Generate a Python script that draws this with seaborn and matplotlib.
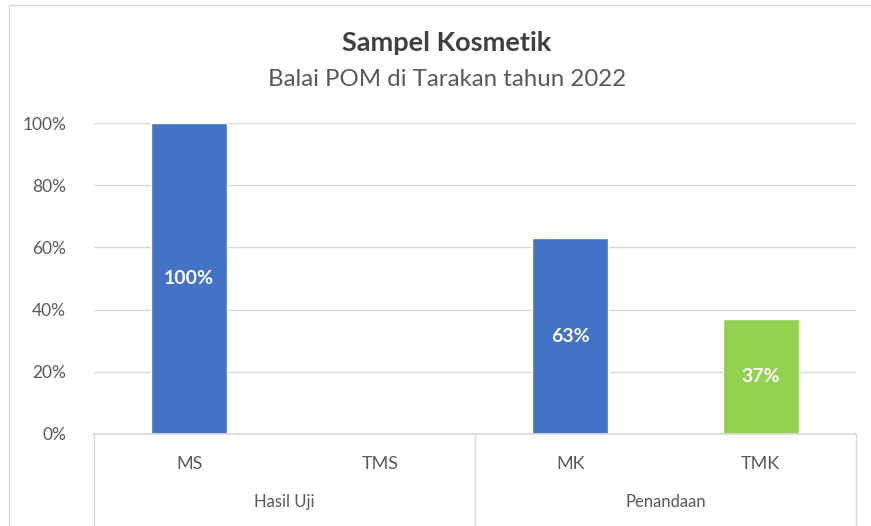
import matplotlib
matplotlib.use("Agg")
import matplotlib.pyplot as plt
import seaborn as sns
import pandas as pd
from matplotlib.lines import Line2D

categories = ["MS", "TMS", "MK", "TMK"]
groups = ["Hasil Uji", "Penandaan"]
group_sizes = [2, 2]
values = [100, 0, 63, 37]
colors = {"MS": "#4472C4", "TMS": "#4472C4", "MK": "#4472C4", "TMK": "#92D050"}
yticks = [0, 20, 40, 60, 80, 100]

sns.set_theme(style="white")
plt.rcParams['font.family'] = ['Lato', 'DejaVu Sans']

W, H = 871, 526
fig = plt.figure(figsize=(W / 100, H / 100), dpi=100)
fig.patch.set_facecolor("white")

# chart border (top and left visible)
fig.add_artist(Line2D([9 / W, 1], [1 - 5 / H, 1 - 5 / H], color="#D9D9D9", lw=1))
fig.add_artist(Line2D([9 / W, 9 / W], [0, 1 - 5 / H], color="#D9D9D9", lw=1))

left, right, top, bottom = 94, 856, 123, 434
ax = fig.add_axes([left / W, 1 - bottom / H, (right - left) / W, (bottom - top) / H])

df = pd.DataFrame({"cat": categories, "val": values})
sns.barplot(data=df, x="cat", y="val", hue="cat", palette=colors, dodge=False,
            width=0.4, legend=False, ax=ax, saturation=1)

ax.set_ylim(0, 100)
ax.set_xlim(-0.5, len(categories) - 0.5)
ax.set_yticks(yticks)
ax.set_yticklabels([f"{t}%" for t in yticks], color="#595959", fontsize=12.5)
ax.tick_params(axis="y", length=0, pad=20)
ax.yaxis.grid(True, color="#D9D9D9", lw=1)
ax.set_axisbelow(True)
for s in ["top", "right", "left"]:
    ax.spines[s].set_visible(False)
ax.spines["bottom"].set_color("#D9D9D9")
ax.set_xlabel("")
ax.set_ylabel("")
ax.set_xticks([])

for cont in ax.containers:
    labs = [f"{v:.0f}%" if v > 0 else "" for v in cont.datavalues]
    ax.bar_label(cont, labels=labs, label_type="center", color="white",
                 fontsize=14, fontweight="bold")

# category labels
for i, c in enumerate(categories):
    ax.text(i, -0.095, c, transform=ax.get_xaxis_transform(), ha="center", va="center",
            fontsize=13, color="#595959")

# group labels and separators
trans = ax.get_xaxis_transform()
start = 0
sep_bottom = -(H - bottom) / (bottom - top)
ax.add_line(Line2D([-0.5, -0.5], [0, sep_bottom], transform=trans, color="#D9D9D9", lw=1, clip_on=False))
for g, n in zip(groups, group_sizes):
    center = start + (n - 1) / 2
    ax.text(center, -0.22, g, transform=trans, ha="center", va="center",
            fontsize=12, color="#595959")
    end = start + n - 0.5
    ax.add_line(Line2D([end, end], [0, sep_bottom], transform=trans, color="#D9D9D9", lw=1, clip_on=False))
    start += n

fig.text(447 / W, 1 - 43 / H, "Sampel Kosmetik", ha="center", va="center",
         fontsize=19.5, fontweight="bold", color="#404040")
fig.text(447 / W, 1 - 79 / H, "Balai POM di Tarakan tahun 2022", ha="center", va="center",
         fontsize=17.3, color="#595959")

fig.savefig("out.png", dpi=100, facecolor="white")
